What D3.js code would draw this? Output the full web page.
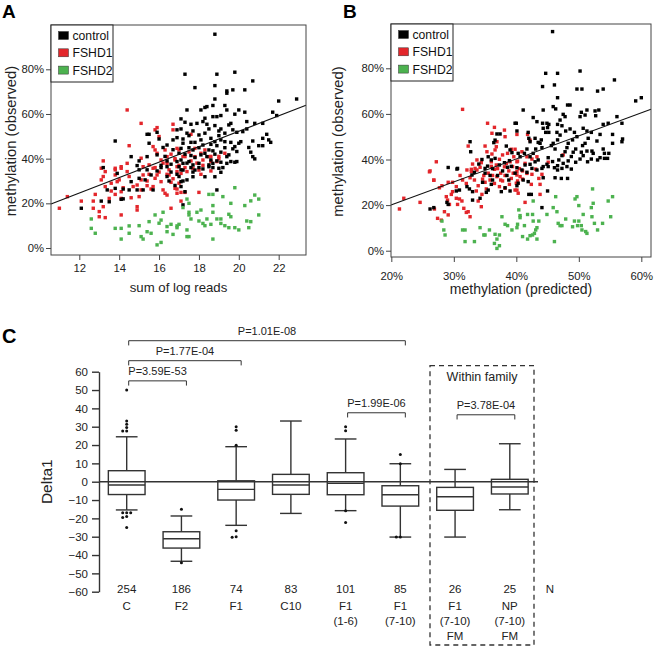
<!DOCTYPE html>
<html>
<head>
<meta charset="utf-8">
<script src="https://cdn.jsdelivr.net/npm/d3@7"></script>
<style>
  body { margin: 0; background: #fff; }
  svg { display: block; font-family: "Liberation Sans", Arial, sans-serif; }
</style>
</head>
<body>
<svg id="fig" width="657" height="647"></svg>
<script>
// ---- Panel A: sum of log reads vs observed methylation (%) ----
const ctrlA = [
  [13.8,47.9],[15.4,50.9],[15.5,50.9],[15.9,51.8],[15.5,46.9],[16.0,48.8],[16.2,45.0],[16.4,46.1],[16.7,48.4],[16.9,52.9],
  [14.6,40.9],[15.0,39.0],[14.9,36.9],[15.4,40.9],[15.9,41.7],[16.1,36.0],[16.4,36.4],[16.6,37.5],[13.2,36.0],
  [12.1,17.8],[13.1,21.0],[13.4,26.0],[13.8,26.7],[14.2,26.4],[14.5,26.0],[14.2,22.0],[14.9,26.0],[15.2,26.0],[15.7,26.0],
  [13.9,33.4],[14.6,29.7],[15.0,31.2],[15.3,30.5],[15.6,32.7],[15.9,34.5],[15.0,35.0],[15.4,35.0],[16.4,32.0],
  [18.8,95.7],[17.3,77.8],[18.9,77.8],[19.8,78.7],[17.8,71.8],[18.8,72.7],[20.7,74.8],[19.4,70.3],[19.4,69.3],[19.7,70.8],[20.3,70.8],
  [18.8,66.7],[22.0,65.8],[22.9,66.7],[17.4,61.8],[18.1,61.8],[18.3,62.9],[18.4,63.3],[18.7,63.8],[19.3,63.8],[19.4,61.8],[20.0,61.8],
  [19.8,59.9],[20.3,60.8],[19.1,59.3],[18.7,58.8],[18.9,58.8],[17.1,57.8],[17.3,56.3],[17.1,53.3],[17.6,55.4],[17.9,55.8],[18.2,56.6],
  [18.3,58.1],[18.4,55.4],[18.5,53.3],[18.3,51.4],[17.4,51.4],[17.7,52.4],[17.5,50.3],[18.8,54.8],[19.0,52.4],[19.1,53.3],[19.3,51.4],
  [19.5,55.1],[19.6,55.8],[19.7,52.9],[19.9,51.8],[20.4,56.6],[20.4,53.3],[20.2,52.1],[20.8,55.8],[21.2,55.8],[21.7,60.8],[21.9,59.3],
  [21.4,50.9],[21.5,48.4],[21.6,47.3],[21.2,49.1],[20.7,47.9],[21.0,45.8],[21.2,45.8],[20.5,45.0],[20.6,42.9],[20.7,40.9],[20.8,39.9],
  [20.0,46.9],[20.1,47.6],[19.8,45.4],[19.9,43.2],[19.6,47.3],[19.7,44.4],[19.3,47.6],[19.3,44.9],[19.1,42.9],[19.5,41.7],[19.9,38.7],
  [19.8,38.4],[18.8,47.6],[18.9,45.8],[19.0,50.3],[19.1,48.4],[18.6,49.1],[18.6,46.4],[18.5,43.9],[18.7,43.5],[18.8,42.0],[18.4,40.9],
  [18.6,39.4],[18.2,46.1],[18.1,48.4],[18.0,50.6],[17.8,47.3],[18.0,44.9],[17.7,43.9],[17.6,47.3],[17.5,44.9],[17.2,46.9],[17.1,44.6],
  [17.0,42.4],[17.3,42.0],[17.6,41.4],[17.8,40.5],[18.1,41.7],[18.3,42.4],[18.9,39.0],[19.1,38.4],[19.4,40.9],[16.9,49.4],[17.2,48.8],
  [16.9,38.7],[17.1,39.4],[17.2,37.9],[17.5,38.7],[17.7,37.2],[18.0,37.9],[18.5,37.2],[18.7,37.9],[19.4,37.9],[19.6,38.7],
  [17.0,36.4],[17.2,34.9],[17.6,36.0],[17.8,34.9],[18.2,35.4],[18.5,36.4],[18.7,36.0],[19.0,35.7],[19.2,36.0],[18.3,31.9],[17.7,31.9],
  [17.4,30.5],[17.1,29.7],[17.1,27.5],[17.3,25.2],[18.8,31.9],[19.1,33.9],[18.9,26.0],[17.2,19.3],[13.5,20.7],[14.1,21.8],
  [16.1,37],[16.4,39],[16.6,34],[16.9,33],[17.1,35],[17.4,38],[17.7,34],[18.0,36],[16.3,41],[16.7,44],[17.0,32],[16.5,30],[16.8,28],[17.2,30]
];
const fshd1A = [
  [14.4,61.8],[15.1,55.8],[15.8,52.9],[15.9,53.9],[16.0,49.9],[14.5,45.8],[16.7,52.9],[16.7,55.4],
  [15.7,45.4],[15.8,43.9],[15.9,42.4],[16.3,43.9],[16.4,40.9],[16.6,42.0],[16.9,44.6],[13.2,39.0],[14.1,36.4],[14.4,37.9],[15.1,40.2],
  [15.2,36.4],[15.5,37.2],[15.7,35.7],[16.1,39.4],[16.4,37.9],[16.8,39.4],[16.9,36.4],[13.8,35.7],
  [11.0,17.8],[11.4,23.0],[12.1,21.0],[12.7,21.0],[12.8,24.0],[12.7,17.8],[13.0,16.3],[13.0,14.0],[13.3,13.6],[13.2,18.5],[13.1,30.5],
  [13.2,32.0],[13.3,34.2],[13.1,35.7],[13.3,27.5],[13.6,29.0],[13.6,25.5],[13.5,22.2],[13.8,24.0],[13.8,35.0],[13.8,32.7],[13.9,29.7],
  [14.1,35.7],[14.0,30.5],[14.1,22.2],[14.1,14.8],[14.1,25.2],[14.2,27.0],[14.4,34.2],[14.5,32.0],[14.6,22.5],[14.7,27.5],[14.9,28.2],
  [14.9,18.5],[14.9,17.0],[15.0,23.0],[15.1,26.0],[15.1,30.5],[15.2,32.7],[15.4,27.9],[15.4,30.0],[15.6,26.4],[15.7,27.5],[15.8,31.2],
  [15.9,32.7],[16.1,29.7],[16.2,26.0],[16.4,23.7],[16.5,32.7],[16.6,29.4],[16.8,26.7],[16.9,24.5],[16.6,17.8],[16.3,24.5],
  [17.6,50.9],[17.8,44.6],[18.1,42.4],[17.8,40.9],[18.3,43.9],[18.5,40.9],[18.9,38.7],[19.3,42.4],[17.3,40.9],[17.0,43.9],[18.2,39.4],
  [18.6,38.7],[19.0,41.0],[16.9,34.2],[17.1,33.4],[17.4,34.2],[17.7,35.7],[18.0,34.9],[18.1,33.0],[18.6,34.5],[17.0,29.0],[16.9,26.4],
  [17.1,24.9],[17.3,24.9],[18.0,24.9],[17.1,21.0],
  [16.2,38],[16.5,35],[16.8,40],[17.0,37],[17.3,36],[17.6,39],[17.9,38],[18.2,37],[16.4,33],[16.7,31],[16.0,34],[15.8,36],[15.5,33],
  [17.2,41],[17.5,43],[18.6,41],[19.0,40]
];
const fshd2A = [
  [12.6,13.0],[12.6,8.8],[12.8,6.6],[13.8,8.8],[14.1,8.8],[14.1,4.0],[14.5,9.9],[14.5,6.6],[15.0,10.0],[15.1,5.1],[15.2,4.0],
  [15.4,7.3],[15.5,11.8],[15.6,6.6],[15.8,14.8],[16.0,11.1],[16.1,12.5],[15.9,1.4],[16.2,16.0],[16.4,9.6],[16.4,7.3],[16.6,10.6],
  [16.7,6.1],[16.9,9.9],[16.1,2.5],[17.4,21.9],[17.5,20.0],[17.2,18.1],[17.5,16.0],[17.5,14.8],[17.6,13.0],[17.0,10.6],[16.9,9.1],
  [17.4,8.1],[17.4,5.1],[17.5,5.1],[17.9,16.0],[18.1,17.0],[18.0,12.1],[18.2,11.0],[18.3,10.0],[18.4,13.0],[18.5,24.0],[18.7,24.0],
  [18.7,19.0],[18.7,16.0],[18.6,10.6],[18.9,13.0],[19.1,13.0],[19.1,11.0],[19.2,23.0],[19.3,10.0],[19.5,15.1],[19.6,20.0],[19.6,14.0],
  [19.5,9.1],[19.8,27.0],[19.8,9.1],[20.0,8.1],[20.3,19.0],[20.4,12.1],[20.6,11.8],[20.5,9.1],[20.6,21.1],[20.8,23.7],[21.0,21.9],
  [21.0,14.8],[18.7,4.0]
];
const fitA = [[10.58, 19.7], [23.37, 63.9]];

// ---- Panel B: predicted vs observed methylation (%) ----
const ctrlB = [
  [32.6,47.8],[36.9,51.2],[37.4,51.2],[36.4,47.4],[36.6,48.5],[40.0,55.9],[38.4,45.9],[39.0,44.2],[39.3,43.0],[35.5,41.2],[36.0,39.8],
  [36.6,40.5],[37.3,37.6],[38.1,38.6],[38.6,36.6],[38.9,39.5],[30.6,36.1],[35.4,37.1],[35.0,36.1],
  [45.8,96.1],[44.7,77.8],[46.6,77.8],[50.2,78.8],[44.2,72.0],[46.1,72.7],[49.7,70.9],[50.5,70.9],[53.0,70.0],[53.9,70.9],[55.7,74.9],
  [46.6,67.1],[59.1,65.7],[60.0,67.1],[48.2,63.9],[48.6,63.9],[41.1,61.7],[44.3,61.7],[45.9,63.2],[46.3,62.2],[50.4,60.7],[51.3,61.7],
  [52.6,61.3],[53.2,61.7],[47.5,59.8],[47.8,58.8],[50.2,58.8],[51.0,59.5],[52.7,59.2],[47.0,57.3],[46.6,55.4],[47.3,54.8],[42.7,58.4],
  [43.3,56.6],[44.2,55.9],[44.9,55.9],[45.2,55.4],[44.3,53.7],[45.0,54.0],[44.7,51.9],[45.2,51.9],[39.8,55.9],[40.1,52.5],[41.9,51.9],
  [42.0,49.3],[42.2,47.8],[43.0,49.3],[43.5,47.5],[44.0,48.6],[46.5,51.9],[47.0,50.7],[46.6,48.6],[45.9,47.1],[45.6,46.1],[46.2,44.6],
  [47.9,52.5],[48.6,53.4],[49.3,51.9],[49.7,50.0],[49.0,48.6],[48.3,47.1],[48.1,45.2],[47.8,43.4],[50.7,53.7],[51.3,52.5],[52.0,51.9],
  [51.5,49.3],[51.0,47.1],[50.6,46.1],[51.3,43.7],[52.9,48.1],[53.4,51.0],[53.9,55.4],[54.7,55.9],[56.1,58.8],[56.9,55.9],[57.0,49.0],
  [56.9,47.8],[55.4,51.0],[55.4,47.1],[53.9,44.6],[54.1,42.7],[54.8,42.7],[54.6,40.5],[53.0,39.8],[53.4,40.8],[54.1,40.5],[52.1,43.7],
  [52.3,42.7],[52.0,40.2],[51.4,39.0],[50.4,43.2],[50.7,41.7],[50.2,40.2],[49.5,38.8],[49.1,43.2],[49.5,44.6],[48.8,41.3],[48.3,39.4],
  [47.3,41.7],[46.8,39.8],[47.5,38.3],[46.6,37.3],[45.1,40.8],[45.8,39.1],[44.9,37.9],[44.3,36.9],[43.8,47.1],[44.1,45.2],[43.1,44.6],
  [42.7,42.7],[42.2,41.2],[41.3,42.7],[41.7,44.6],[40.6,41.2],[40.3,42.7],[43.0,39.0],[43.5,39.8],[42.2,37.9],[41.4,37.6],
  [26.2,18.3],[26.8,18.9],[30.5,35.8],[32.9,33.2],[33.3,34.4],[30.4,26.2],[30.9,26.6],[32.1,28.1],[32.5,27.1],[33.0,25.9],[33.0,22.2],
  [34.2,23.0],[35.2,25.6],[36.0,29.1],[35.5,26.6],[36.2,31.0],[37.6,25.9],[38.2,27.6],[39.0,26.2],[28.9,21.2],[29.1,20.3],
  [40.1,36.4],[40.9,35.4],[41.7,34.4],[42.5,36.1],[43.3,35.4],[44.1,36.1],[45.1,36.9],[46.1,36.4],[46.6,35.4],[47.3,36.1],[48.1,36.9],
  [48.8,35.8],[46.2,32.0],[47.2,31.7],[48.2,31.7],[44.3,32.0],[41.9,30.3],[41.1,31.0],[40.3,29.6],[40.1,28.5],[42.0,24.7],[42.4,24.7],
  [45.0,26.2],[44.1,18.9],[32.7,43.4],[29.1,36.5],
  [34.0,38],[34.5,40],[35.0,34],[36.2,36],[37.0,33],[37.8,35],[38.5,33],[39.2,37],[39.8,34],[35.8,33],[34.6,30],[38.8,31]
];
const fshd1B = [
  [31.4,62.0],[35.4,55.9],[36.5,54.1],[36.1,51.5],[38.1,52.9],[38.2,50.0],[36.9,47.8],[36.8,45.6],[36.6,44.2],[36.1,42.4],[32.3,45.9],
  [35.0,45.9],[35.3,43.4],[27.2,39.0],[33.7,39.8],[34.4,38.6],[32.8,35.7],[33.4,36.1],[34.2,36.6],[36.0,39.0],[36.8,37.6],[37.3,40.1],
  [38.6,42.7],[39.2,44.5],[39.8,44.5],[39.6,41.2],[39.0,39.0],[37.8,42.0],[38.1,36.8],[38.4,38.3],[39.4,36.9],[40.1,39.0],[36.5,35.7],
  [40.1,51.0],[41.8,51.0],[42.2,48.5],[40.9,43.4],[41.7,41.2],[42.5,40.2],[43.3,41.2],[40.2,39.3],[41.4,38.3],[45.1,38.8],[47.5,42.0],
  [21.3,18.3],[22.0,23.0],[24.6,21.2],[26.2,35.0],[26.8,31.0],[27.7,27.6],[28.1,28.5],[26.9,18.3],[28.5,17.1],[29.1,15.7],[28.8,23.7],
  [29.0,22.2],[29.3,20.3],[29.6,24.7],[29.8,25.9],[29.1,30.0],[29.8,30.0],[30.4,28.1],[30.4,23.0],[30.9,22.7],[31.3,21.8],[30.6,20.3],
  [31.6,18.6],[32.0,16.8],[32.6,14.9],[32.3,17.1],[31.4,31.0],[32.0,29.5],[32.6,32.0],[32.1,35.4],[32.8,34.7],[33.7,35.4],[33.3,31.0],
  [33.9,28.5],[34.6,31.4],[33.6,26.2],[34.5,24.7],[35.2,27.1],[34.4,19.3],[33.9,21.8],[35.8,31.0],[36.5,29.5],[36.9,32.5],[37.3,28.1],
  [37.8,30.6],[38.2,27.4],[38.9,29.1],[39.2,31.7],[39.8,26.6],[40.0,29.6],[40.1,33.2],
  [40.1,34.7],[40.6,32.5],[41.0,31.4],[40.2,30.6],[41.7,33.9],[42.5,33.5],[43.1,35.8],[43.6,31.7],[43.8,29.1],[44.1,33.5],[42.4,29.1],
  [41.4,21.2],[43.8,24.7],[40.1,26.6],[40.3,25.2],
  [26.1,34.6],[26.8,30.9],[27.4,14.2],[28.0,13.4],
  [35.5,34],[36.2,33],[37.0,36],[37.5,34],[38.2,33],[38.8,35],[39.5,34],[40.5,36],[41.0,35],[34.8,33],[35.0,30],[37.5,31],[36.0,37],
  [33.0,38],[31.0,33]
];
const fshd2B = [
  [52.2,27.1],[55.4,23.7],[54.7,21.8],[52.3,20.8],[49.7,23.7],[49.4,22.7],[46.3,23.7],[52.0,18.9],[50.0,19.8],[42.7,21.8],[40.4,17.9],
  [40.6,15.4],[40.6,14.5],[41.8,15.9],[42.6,15.9],[44.9,15.9],[45.9,18.9],[46.5,17.1],[47.9,13.9],[50.7,15.9],[52.1,14.9],[55.1,14.9],
  [42.7,13.0],[43.6,13.0],[46.7,12.0],[47.0,11.0],[47.3,11.0],[49.3,13.0],[50.0,13.0],[52.5,12.0],[53.8,12.0],[49.0,10.5],[49.8,11.0],
  [50.4,11.0],[50.5,9.1],[51.1,8.4],[51.3,7.6],[53.0,9.1],[40.1,10.1],[41.3,11.0],[43.3,10.1],[43.1,9.1],[42.9,7.6],[42.6,6.9],[42.2,6.6],
  [41.0,6.2],[41.8,5.1],[43.3,5.1],[46.1,4.0],
  [28.1,13.0],[28.4,9.1],[28.6,6.9],[31.4,9.1],[31.8,9.1],[34.2,10.1],[34.8,6.9],[35.0,6.9],[35.7,9.1],[31.8,4.0],[33.3,4.0],[36.6,7.2],
  [36.9,5.1],[37.3,6.9],[36.5,3.2],[37.3,2.2],[36.9,1.0],[37.7,14.9],[38.2,11.6],[38.6,11.0],[39.3,9.1],[40.2,11.6]
];
const fitB = [[19.95, 20.0], [61.55, 62.0]];

// ---- Panel C: Delta1 box plot ----
const groupTop = ["C", "F2", "F1", "C10", "F1", "F1", "F1", "NP"];
const groupMid = ["", "", "", "", "(1-6)", "(7-10)", "(7-10)", "(7-10)"];
const groupBot = ["", "", "", "", "", "", "FM", "FM"];
const nCounts = [254, 186, 74, 83, 101, 85, 26, 25];
const whiskLo = [-15.4, -43.4, -23.8, -17.3, -15.8, -30.2, -30.2, -15.3];
const q1 = [-7, -36.2, -10, -6.9, -7.1, -13.3, -15.6, -6.7];
const median = [-1.8, -31.1, -4.2, -1.8, -0.9, -7.1, -8.2, -2.9];
const q3 = [6, -27.3, 0.5, 4, 4.9, -2.2, -3.1, 1.3];
const whiskHi = [24.5, -18.7, 19.1, 33.1, 23.3, 9.8, 6.7, 20.7];
const outliers = [
  [50, 33.1, 31.3, 29.5, 27.7, 27.7, -17, -17, -17, -19, -19.5, -25],
  [-15, -44.2],
  [30, 28, 19.9, -26.7, -30, -30.3],
  [],
  [30, 27.8, -15.8, -22.2],
  [14.9, 9.8, -30.2, -30.2],
  [],
  []
];
const pTests = [
  { a: 0, b: 1, level: 55, label: "P=3.59E-53" },
  { a: 0, b: 2, level: 66, label: "P=1.77E-04" },
  { a: 0, b: 5, level: 76.9, label: "P=1.01E-08" },
  { a: 4, b: 5, level: 37.6, label: "P=1.99E-06" },
  { a: 6, b: 7, level: 36.5, label: "P=3.78E-04" }
];
const cTicks = d3.range(-60, 61, 10);

const svg = d3.select("#fig");
const RED = "#e3262b", GREEN = "#4cb24f";

function scatterPanel(o) {
  const g = svg.append("g");
  const [xl, xr] = o.x.range();
  const [yb, yt] = o.y.range();

  // points
  for (const s of o.series) {
    g.append("g").selectAll("rect").data(s.data).join("rect")
      .attr("x", d => o.x(d[0]) - 1.7)
      .attr("y", d => o.y(d[1]) - 1.7)
      .attr("width", 3.4).attr("height", 3.4)
      .attr("fill", s.color);
  }

  // fitted line
  g.append("line")
    .attr("x1", o.x(o.fit[0][0])).attr("y1", o.y(o.fit[0][1]))
    .attr("x2", o.x(o.fit[1][0])).attr("y2", o.y(o.fit[1][1]))
    .attr("stroke", "#111").attr("stroke-width", 1.1);

  // frame
  g.append("rect")
    .attr("x", xl).attr("y", yt).attr("width", xr - xl).attr("height", yb - yt)
    .attr("fill", "none").attr("stroke", "#444").attr("stroke-width", 1);

  // axes
  g.append("g").attr("transform", `translate(0,${yb})`)
    .call(d3.axisBottom(o.x).tickValues(o.xTicks).tickSize(5).tickPadding(o.xPad).tickFormat(o.xFormat))
    .call(a => a.select(".domain").remove())
    .call(a => a.selectAll("line").attr("stroke", "#444"))
    .call(a => a.selectAll("text").attr("font-size", 11.3).attr("fill", "#222").attr("font-family", null));
  g.append("g").attr("transform", `translate(${xl},0)`)
    .call(d3.axisLeft(o.y).tickValues([0, 20, 40, 60, 80]).tickSize(5).tickPadding(2).tickFormat(d => d + "%"))
    .call(a => a.select(".domain").remove())
    .call(a => a.selectAll("line").attr("stroke", "#444"))
    .call(a => a.selectAll("text").attr("font-size", 11.3).attr("fill", "#222").attr("font-family", null));

  // axis titles
  g.append("text").attr("x", (xl + xr) / 2).attr("y", o.xTitleY)
    .attr("text-anchor", "middle").attr("font-size", o.xTitleSize).attr("fill", "#222").text(o.xTitle);
  g.append("text").attr("transform", `translate(${o.yTitleX},${(yb + yt) / 2 + 1}) rotate(-90)`)
    .attr("text-anchor", "middle").attr("font-size", 14.8).attr("fill", "#222").text("methylation (observed)");

  // legend
  const lg = g.append("g").attr("transform", `translate(${xl},${yt})`);
  lg.append("rect").attr("width", 62).attr("height", 57)
    .attr("fill", "#fff").attr("stroke", "#222").attr("stroke-width", 1);
  o.series.slice().sort((a, b) => a.order - b.order).forEach((s, i) => {
    lg.append("rect").attr("x", 7.5).attr("y", 6.5 + i * 17.3).attr("width", 10).attr("height", 8)
      .attr("fill", s.color).attr("stroke", "#333").attr("stroke-width", 0.5);
    lg.append("text").attr("x", 21.5).attr("y", 15 + i * 17.3)
      .attr("font-size", 12.2).attr("fill", "#111").text(s.name);
  });

  svg.append("text").attr("x", o.letterX).attr("y", 18)
    .attr("font-size", 19).attr("font-weight", "bold").text(o.letter);
}

const xA = d3.scaleLinear().domain([10.58, 23.37]).range([51, 306]);
const yA = d3.scaleLinear().domain([-3.13, 99.83]).range([255, 25]);
scatterPanel({
  x: xA, y: yA, fit: fitA, letter: "A", letterX: 2,
  xTicks: [12, 14, 16, 18, 20, 22], xFormat: d => d, xPad: 4,
  xTitle: "sum of log reads", xTitleY: 292, xTitleSize: 13.2, yTitleX: 16,
  series: [
    { name: "FSHD1", color: RED, data: fshd1A, order: 1 },
    { name: "control", color: "#000", data: ctrlA, order: 0 },
    { name: "FSHD2", color: GREEN, data: fshd2A, order: 2 }
  ]
});

const xB = d3.scaleLinear().domain([19.95, 61.55]).range([391, 651]);
const yB = d3.scaleLinear().domain([-2.76, 99.43]).range([257, 24]);
scatterPanel({
  x: xB, y: yB, fit: fitB, letter: "B", letterX: 343,
  xTicks: [20, 30, 40, 50, 60], xFormat: d => d + "%", xPad: 10,
  xTitle: "methylation (predicted)", xTitleY: 294, xTitleSize: 14, yTitleX: 343,
  series: [
    { name: "FSHD1", color: RED, data: fshd1B, order: 1 },
    { name: "control", color: "#000", data: ctrlB, order: 0 },
    { name: "FSHD2", color: GREEN, data: fshd2B, order: 2 }
  ]
});

// ---- Panel C ----
const gc = svg.append("g");
const ink = "#333";
const xC = d3.scalePoint().domain(d3.range(groupTop.length)).range([126.7, 509.8]);
const yC = d3.scaleLinear().domain([-60, 60]).range([591.7, 371.7]);
const boxW = 36.7, capW = 21.7;

gc.append("text").attr("x", 2).attr("y", 343).attr("font-size", 20).attr("font-weight", "bold").text("C");

gc.append("g").attr("transform", "translate(99,0)")
  .call(d3.axisLeft(yC).tickValues(cTicks).tickSize(7).tickSizeOuter(0).tickPadding(4))
  .call(a => a.select(".domain").attr("stroke", ink).attr("stroke-width", 1.4))
  .call(a => a.selectAll("line").attr("stroke", ink).attr("stroke-width", 1.4))
  .call(a => a.selectAll("text").attr("font-size", 11.5).attr("fill", "#222").attr("font-family", null));

gc.append("text").attr("transform", `translate(52,${yC(0)}) rotate(-90)`)
  .attr("text-anchor", "middle").attr("font-size", 15.5).attr("fill", "#222").text("Delta1");

// boxes
const boxes = gc.selectAll("g.box").data(d3.range(groupTop.length)).join("g").attr("class", "box");
boxes.append("line")
  .attr("x1", i => xC(i)).attr("x2", i => xC(i))
  .attr("y1", i => yC(whiskHi[i])).attr("y2", i => yC(q3[i]))
  .attr("stroke", ink).attr("stroke-width", 1.4);
boxes.append("line")
  .attr("x1", i => xC(i)).attr("x2", i => xC(i))
  .attr("y1", i => yC(q1[i])).attr("y2", i => yC(whiskLo[i]))
  .attr("stroke", ink).attr("stroke-width", 1.4);
for (const arr of [whiskHi, whiskLo]) {
  boxes.append("line")
    .attr("x1", i => xC(i) - capW / 2).attr("x2", i => xC(i) + capW / 2)
    .attr("y1", i => yC(arr[i])).attr("y2", i => yC(arr[i]))
    .attr("stroke", ink).attr("stroke-width", 1.4);
}
boxes.append("rect")
  .attr("x", i => xC(i) - boxW / 2).attr("width", boxW)
  .attr("y", i => yC(q3[i])).attr("height", i => yC(q1[i]) - yC(q3[i]))
  .attr("fill", "none").attr("stroke", ink).attr("stroke-width", 1.4);
boxes.append("line")
  .attr("x1", i => xC(i) - boxW / 2).attr("x2", i => xC(i) + boxW / 2)
  .attr("y1", i => yC(median[i])).attr("y2", i => yC(median[i]))
  .attr("stroke", ink).attr("stroke-width", 1.4);

// outliers, nudged sideways when they overlap
outliers.forEach((vals, i) => {
  const placed = [];
  vals.forEach(v => {
    const near = placed.filter(p => Math.abs(p - v) < 1.2).length;
    placed.push(v);
    const dx = [0, -4, 4, -8, 8][near] || 0;
    gc.append("circle").attr("cx", xC(i) + dx).attr("cy", yC(v)).attr("r", 1.5).attr("fill", "#111");
  });
});

// zero line
gc.append("line").attr("x1", 99).attr("x2", 538).attr("y1", yC(0)).attr("y2", yC(0))
  .attr("stroke", ink).attr("stroke-width", 1.4);

// significance brackets
for (const t of pTests) {
  const x1 = xC(t.a) + 2, x2 = xC(t.b) + 5, yy = yC(t.level);
  gc.append("path").attr("d", `M${x1},${yy + 4.7}V${yy}H${x2}V${yy + 4.7}`)
    .attr("fill", "none").attr("stroke", ink).attr("stroke-width", 1);
  gc.append("text").attr("x", (x1 + x2) / 2).attr("y", yy - 5.5)
    .attr("text-anchor", "middle").attr("font-size", 11).attr("fill", "#222").text(t.label);
}

// within-family frame
gc.append("rect").attr("x", 430).attr("y", 365.7).attr("width", 104).attr("height", 279.3)
  .attr("fill", "none").attr("stroke", ink).attr("stroke-width", 1.3).attr("stroke-dasharray", "5,4");
gc.append("text").attr("x", 482).attr("y", 381).attr("text-anchor", "middle")
  .attr("font-size", 12.5).attr("fill", "#222").text("Within family");

// N and group labels
const labelRows = [[nCounts, 593], [groupTop, 610], [groupMid, 625], [groupBot, 639.5]];
for (const [arr, yy] of labelRows) {
  gc.append("g").selectAll("text").data(arr).join("text")
    .attr("x", (d, i) => xC(i)).attr("y", yy)
    .attr("text-anchor", "middle").attr("font-size", 11.5).attr("fill", "#222").text(d => d);
}
gc.append("text").attr("x", 550).attr("y", 593).attr("text-anchor", "middle")
  .attr("font-size", 11.5).attr("fill", "#222").text("N");
</script>
</body>
</html>
